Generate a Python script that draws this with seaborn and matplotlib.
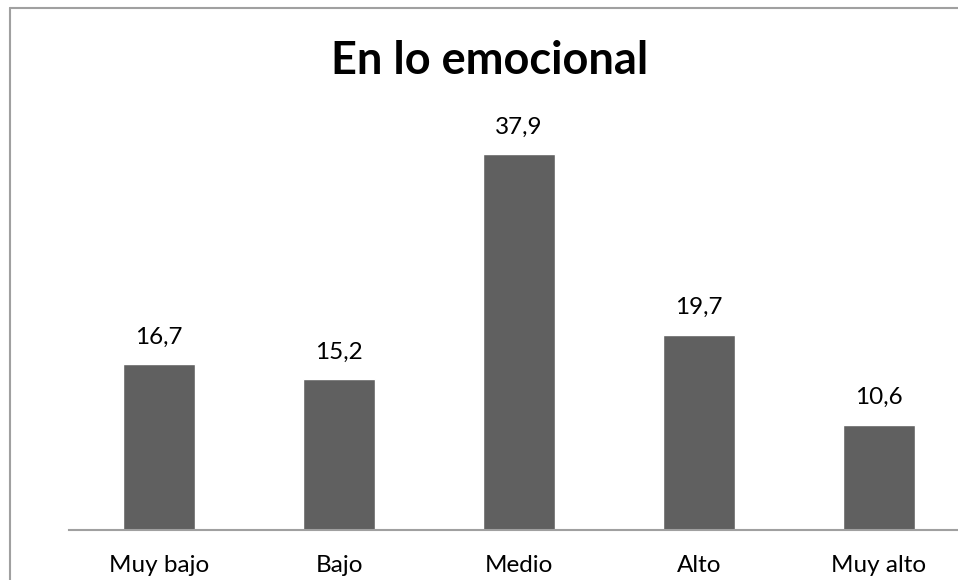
import matplotlib
matplotlib.use("Agg")
import matplotlib.pyplot as plt
import seaborn as sns
import pandas as pd
from matplotlib.lines import Line2D

categories = ["Muy bajo", "Bajo", "Medio", "Alto", "Muy alto"]
values = [16.7, 15.2, 37.9, 19.7, 10.6]
value_labels = ["16,7", "15,2", "37,9", "19,7", "10,6"]
title = "En lo emocional"

sns.set_theme(style="white")
plt.rcParams["font.family"] = ["Lato", "DejaVu Sans"]

W, H = 958, 580
fig = plt.figure(figsize=(W / 100, H / 100), dpi=100)
fig.patch.set_facecolor("white")

# plot area: baseline at y=530px, category slots of 180px starting at x=69px
bottom_px, top_px = 530, 84
left_px, right_px = 69, 969
ax = fig.add_axes([left_px / W, (H - bottom_px) / H,
                   (right_px - left_px) / W, (bottom_px - top_px) / H])

df = pd.DataFrame({"cat": categories, "val": values})
sns.barplot(data=df, x="cat", y="val", color="#606060", saturation=1,
            width=0.4, ax=ax)
ax.set_xlim(-0.5, 4.5)
ax.set_ylim(0, 45)

for i, (v, lab) in enumerate(zip(values, value_labels)):
    ax.annotate(lab, (i, v), xytext=(0, 12), textcoords="offset points",
                ha="center", va="bottom", fontsize=17.5, color="#000000")

for s in ["top", "right", "left"]:
    ax.spines[s].set_visible(False)
ax.spines["bottom"].set_color("#A0A0A0")
ax.spines["bottom"].set_linewidth(1.5)
ax.set_yticks([])
ax.set_xlabel("")
ax.set_ylabel("")
ax.tick_params(axis="x", length=0, pad=18, labelsize=17.5, labelcolor="#000000")
ax.set_facecolor("white")

fig.text(490 / W, 1 - 61 / H, title, ha="center", va="center",
         fontsize=32.5, fontweight="bold", color="#000000")

# chart frame: top and left edges
fig.add_artist(Line2D([9.5 / W, 1.0], [1 - 8 / H, 1 - 8 / H],
                      color="#A0A0A0", linewidth=1.5, transform=fig.transFigure))
fig.add_artist(Line2D([9.5 / W, 9.5 / W], [0, 1 - 8 / H],
                      color="#A0A0A0", linewidth=1.5, transform=fig.transFigure))

fig.savefig("out.png", dpi=100)
